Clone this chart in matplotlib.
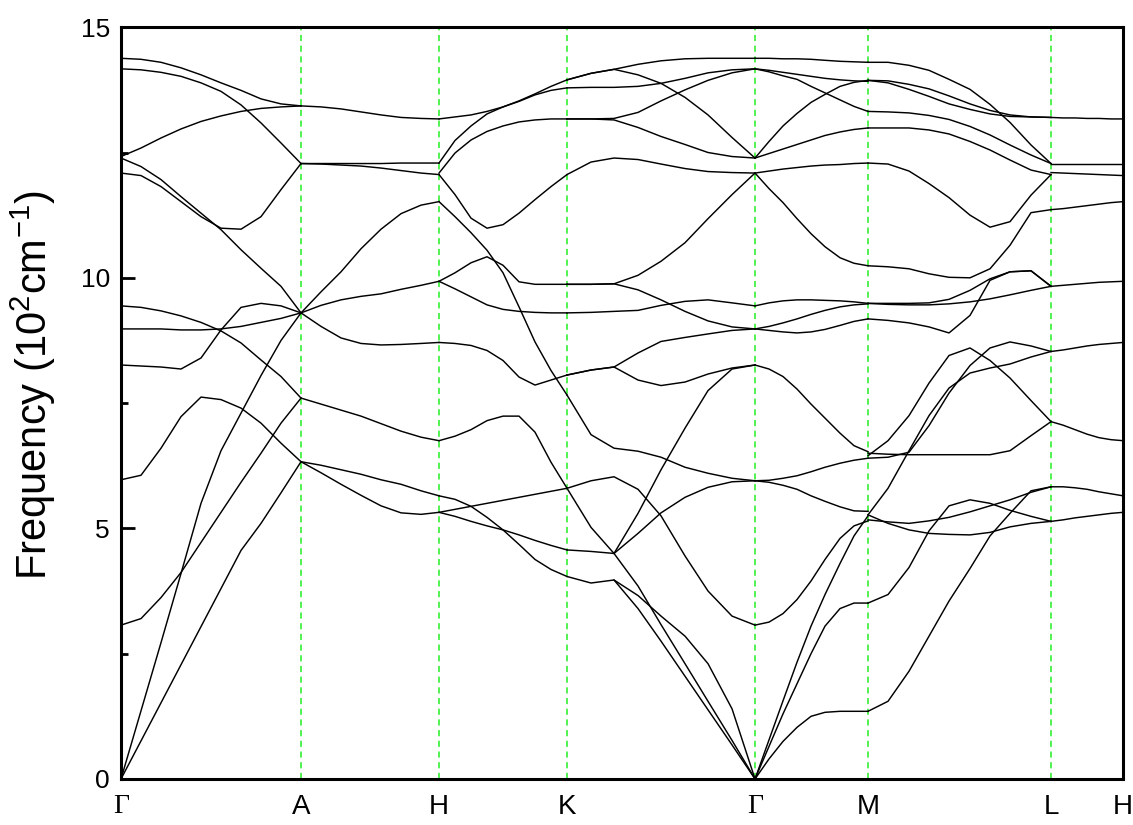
import numpy as np
import matplotlib
matplotlib.use("Agg")
from matplotlib import pyplot as plt

plt.rcParams['font.family'] = ['Liberation Sans', 'DejaVu Sans']
plt.rcParams['mathtext.default'] = 'regular'

nan = np.nan

# high symmetry points (path distance)
kpts = [0, 180, 318, 446, 634, 747, 930, 1002]
klabels = ['Γ', 'A', 'H', 'K', 'Γ', 'M', 'L', 'H']

# Gamma -> A
k_GA = [0, 20, 40, 60, 80, 100, 120, 140, 160, 180]
GA = [
    [14.38, 14.36, 14.30, 14.19, 14.05, 13.89, 13.74, 13.57, 13.47, 13.43],
    [14.17, 14.15, 14.10, 14.02, 13.89, 13.72, 13.45, 13.09, 12.69, 12.28],
    [12.42, 12.59, 12.79, 12.97, 13.12, 13.23, 13.32, 13.38, 13.41, 13.43],
    [12.39, 12.22, 11.96, 11.62, 11.29, 10.96, 10.56, 10.19, 9.83, 9.30],
    [12.09, 12.04, 11.82, 11.52, 11.22, 10.99, 10.97, 11.22, 11.76, 12.28],
    [9.44, 9.41, 9.34, 9.24, 9.11, 8.94, 8.70, 8.36, 8.03, 7.60],
    [8.98, 8.98, 8.98, 8.96, 8.96, 8.98, 9.03, 9.11, 9.19, 9.30],
    [8.26, 8.24, 8.22, 8.18, 8.40, 8.96, 9.41, 9.49, 9.44, 9.30],
    [5.97, 6.06, 6.60, 7.23, 7.62, 7.57, 7.40, 7.10, 6.70, 6.33],
    [3.07, 3.20, 3.62, 4.12, 4.72, 5.32, 5.92, 6.50, 7.10, 7.60],
    [0.00, 1.36, 2.72, 4.10, 5.50, 6.55, 7.30, 8.05, 8.75, 9.30],
    [0.00, 0.76, 1.52, 2.28, 3.04, 3.80, 4.56, 5.10, 5.71, 6.33],
]

# A -> H
k_AH = [180, 200, 220, 240, 260, 280, 300, 318]
AH = [
    [13.43, 13.41, 13.37, 13.31, 13.25, 13.20, 13.18, 13.17],
    [12.28, 12.28, 12.28, 12.28, 12.28, 12.29, 12.29, 12.29],
    [12.28, 12.27, 12.25, 12.23, 12.19, 12.14, 12.09, 12.06],
    [9.30, 9.72, 10.12, 10.58, 10.97, 11.28, 11.45, 11.52],
    [9.30, 9.45, 9.56, 9.63, 9.68, 9.77, 9.85, 9.93],
    [9.30, 9.03, 8.80, 8.69, 8.66, 8.67, 8.69, 8.71],
    [7.60, 7.48, 7.36, 7.24, 7.09, 6.94, 6.82, 6.75],
    [6.33, 6.26, 6.17, 6.08, 5.97, 5.88, 5.75, 5.65],
    [6.33, 6.11, 5.88, 5.66, 5.45, 5.31, 5.28, 5.32],
]

# H -> K
k_HK = [318, 334, 350, 366, 382, 398, 414, 430, 446]
HK = [
    [12.29, 12.74, 13.03, 13.27, 13.41, 13.53, 13.67, 13.82, 13.95],
    [13.17, 13.21, 13.25, 13.32, 13.41, 13.52, 13.65, 13.74, 13.79],
    [12.09, 12.49, 12.75, 12.92, 13.03, 13.11, 13.15, 13.17, 13.17],
    [12.06, 11.66, 11.19, 10.99, 11.06, 11.29, 11.56, 11.82, 12.06],
    [11.52, 11.22, 10.90, 10.55, 10.10, 9.42, 8.72, 8.15, 7.66],
    [9.93, 10.10, 10.30, 10.42, 10.25, 9.92, 9.87, 9.87, 9.87],
    [9.93, 9.78, 9.62, 9.46, 9.37, 9.33, 9.31, 9.30, 9.30],
    [8.71, 8.69, 8.65, 8.55, 8.35, 8.02, 7.86, 7.96, 8.06],
    [6.75, 6.84, 6.97, 7.15, 7.24, 7.24, 6.92, 6.32, 5.80],
    [5.32, 5.38, 5.44, 5.50, 5.56, 5.62, 5.68, 5.74, 5.80],
    [5.32, 5.24, 5.14, 5.05, 4.97, 4.87, 4.76, 4.66, 4.57],
    [5.65, 5.58, 5.44, 5.22, 4.97, 4.68, 4.38, 4.18, 4.04],
]

# K -> Gamma
k_KG = [446, 470, 493, 517, 540, 564, 587, 611, 634]
KG = [
    [13.95, 14.08, 14.16, 14.26, 14.33, 14.37, 14.38, 14.38, 14.38],
    [13.95, 14.08, 14.16, 14.05, 13.88, 13.60, 13.25, 12.80, 12.39],
    [13.79, 13.80, 13.80, 13.82, 13.88, 13.98, 14.09, 14.15, 14.17],
    [13.17, 13.17, 13.18, 13.30, 13.53, 13.75, 13.94, 14.09, 14.17],
    [13.17, 13.17, 13.15, 13.00, 12.82, 12.66, 12.50, 12.42, 12.39],
    [12.06, 12.31, 12.39, 12.36, 12.27, 12.18, 12.12, 12.10, 12.09],
    [9.87, 9.87, 9.88, 10.05, 10.33, 10.70, 11.18, 11.66, 12.09],
    [9.87, 9.87, 9.88, 9.76, 9.56, 9.33, 9.14, 9.02, 8.98],
    [9.30, 9.31, 9.33, 9.35, 9.45, 9.53, 9.56, 9.50, 9.44],
    [8.06, 8.16, 8.22, 8.50, 8.73, 8.81, 8.88, 8.95, 8.98],
    [8.06, 8.16, 8.22, 7.96, 7.85, 7.92, 8.08, 8.20, 8.26],
    [7.66, 6.87, 6.60, 6.54, 6.42, 6.22, 6.10, 6.00, 5.95],
    [5.80, 5.95, 6.03, 5.78, 5.25, 4.45, 3.75, 3.25, 3.07],
    [4.57, 4.54, 4.50, 4.90, 5.31, 5.62, 5.82, 5.93, 5.95],
    [5.80, 5.02, 4.50, 3.85, 3.08, 2.30, 1.55, 0.77, 0.00],
    [nan, nan, 4.50, 5.30, 6.17, 7.00, 7.75, 8.18, 8.26],
    [4.04, 3.91, 3.97, 3.40, 2.75, 2.05, 1.38, 0.68, 0.00],
    [nan, nan, 3.97, 3.66, 3.25, 2.85, 2.30, 1.40, 0.00],
]

# Gamma -> M
k_GM = [634, 648, 662, 676, 690, 704, 719, 733, 747]
GM = [
    [14.38, 14.38, 14.37, 14.37, 14.36, 14.34, 14.32, 14.31, 14.30],
    [14.17, 14.14, 14.10, 14.06, 14.02, 13.98, 13.95, 13.93, 13.92],
    [14.17, 14.11, 14.03, 13.96, 13.82, 13.69, 13.55, 13.42, 13.32],
    [12.39, 12.72, 13.03, 13.28, 13.50, 13.66, 13.82, 13.90, 13.94],
    [12.39, 12.48, 12.57, 12.66, 12.75, 12.84, 12.91, 12.96, 12.99],
    [12.09, 12.13, 12.17, 12.20, 12.23, 12.25, 12.26, 12.28, 12.29],
    [12.09, 11.78, 11.50, 11.18, 10.88, 10.62, 10.40, 10.29, 10.24],
    [9.44, 9.50, 9.54, 9.56, 9.56, 9.55, 9.54, 9.52, 9.49],
    [8.98, 8.95, 8.92, 8.90, 8.92, 8.97, 9.05, 9.13, 9.18],
    [8.98, 9.03, 9.10, 9.18, 9.27, 9.35, 9.42, 9.46, 9.48],
    [8.26, 8.18, 8.03, 7.78, 7.48, 7.20, 6.90, 6.65, 6.53],
    [5.95, 5.96, 6.00, 6.05, 6.13, 6.22, 6.30, 6.36, 6.40],
    [5.95, 5.92, 5.86, 5.78, 5.65, 5.54, 5.43, 5.35, 5.34],
    [3.07, 3.13, 3.30, 3.58, 3.95, 4.38, 4.80, 5.05, 5.15],
    [0.00, 0.78, 1.56, 2.33, 3.05, 3.68, 4.30, 4.85, 5.25],
    [0.00, 0.65, 1.30, 1.90, 2.50, 3.05, 3.40, 3.51, 3.51],
    [0.00, 0.40, 0.75, 1.03, 1.25, 1.33, 1.35, 1.35, 1.35],
]

# M -> L
k_ML = [747, 767, 788, 808, 828, 849, 869, 889, 910, 930]
ML = [
    [14.30, 14.30, 14.24, 14.14, 13.96, 13.76, 13.46, 13.10, 12.65, 12.28],
    [13.94, 13.93, 13.86, 13.77, 13.63, 13.47, 13.34, 13.25, 13.21, 13.20],
    [13.94, 13.89, 13.76, 13.62, 13.47, 13.36, 13.27, 13.22, 13.21, 13.20],
    [13.32, 13.31, 13.29, 13.24, 13.16, 13.02, 12.85, 12.65, 12.45, 12.28],
    [12.99, 12.99, 12.99, 12.95, 12.87, 12.72, 12.55, 12.35, 12.15, 12.06],
    [12.29, 12.27, 12.13, 11.88, 11.60, 11.25, 11.01, 11.12, 11.65, 12.06],
    [10.24, 10.22, 10.18, 10.08, 10.01, 10.00, 10.18, 10.65, 11.30, 11.36],
    [9.49, 9.47, 9.46, 9.46, 9.48, 9.52, 9.58, 9.66, 9.75, 9.83],
    [9.49, 9.49, 9.49, 9.50, 9.57, 9.75, 9.98, 10.12, 10.14, 9.83],
    [9.18, 9.15, 9.10, 9.02, 8.90, 9.25, 9.95, 10.12, 10.14, 9.83],
    [6.45, 6.75, 7.25, 7.90, 8.45, 8.60, 8.35, 8.00, 7.55, 7.13],
    [6.40, 6.42, 6.52, 7.05, 7.70, 8.25, 8.60, 8.72, 8.64, 8.53],
    [6.50, 6.48, 6.47, 6.47, 6.47, 6.47, 6.47, 6.55, 6.85, 7.13],
    [5.27, 5.80, 6.55, 7.25, 7.80, 8.10, 8.20, 8.28, 8.42, 8.53],
    [5.27, 5.10, 4.97, 4.90, 4.88, 4.87, 4.92, 5.03, 5.10, 5.14],
    [5.17, 5.13, 5.10, 5.15, 5.22, 5.33, 5.45, 5.57, 5.72, 5.83],
    [3.51, 3.68, 4.22, 4.95, 5.45, 5.57, 5.50, 5.36, 5.24, 5.14],
    [1.35, 1.55, 2.15, 2.85, 3.55, 4.20, 4.85, 5.30, 5.75, 5.83],
]

# L -> H
k_LH = [930, 942, 954, 966, 978, 990, 1002]
LH = [
    [13.20, 13.19, 13.19, 13.18, 13.18, 13.17, 13.17],
    [12.28, 12.28, 12.28, 12.28, 12.28, 12.28, 12.28],
    [12.10, 12.09, 12.08, 12.07, 12.06, 12.05, 12.04],
    [11.36, 11.38, 11.41, 11.44, 11.47, 11.50, 11.52],
    [9.83, 9.85, 9.87, 9.89, 9.91, 9.92, 9.93],
    [8.53, 8.56, 8.60, 8.64, 8.67, 8.69, 8.71],
    [7.13, 7.06, 6.97, 6.88, 6.81, 6.77, 6.75],
    [5.83, 5.83, 5.81, 5.78, 5.73, 5.69, 5.65],
    [5.14, 5.17, 5.21, 5.24, 5.27, 5.30, 5.32],
]

segments = [(k_GA, GA), (k_AH, AH), (k_HK, HK), (k_KG, KG),
            (k_GM, GM), (k_ML, ML), (k_LH, LH)]

fig = plt.figure(figsize=(11.33, 8.25), dpi=100)
ax = fig.add_axes([0.1068, 0.0558, 0.8844, 0.9112])

for kx, bands in segments:
    for b in bands:
        ax.plot(kx, b, color='black', lw=1.05, solid_joinstyle='round')

for x in kpts[1:-1]:
    ax.axvline(x, color='#22ee22', ls=(0, (4, 3)), lw=1.1, zorder=0)

ax.set_xlim(kpts[0], kpts[-1])
ax.set_ylim(0, 15)

ax.set_xticks(kpts)
ax.set_xticklabels(klabels, fontsize=20)
for lab in ax.get_xticklabels():
    if lab.get_text() == 'Γ':
        lab.set_family('Liberation Serif')
ax.tick_params(axis='x', length=0, pad=11)

ax.set_yticks([0, 5, 10, 15])
ax.set_yticks([2.5, 7.5, 12.5], minor=True)
ax.tick_params(axis='y', which='major', direction='in', length=10, width=2, labelsize=19, pad=8)
ax.tick_params(axis='y', which='minor', direction='in', length=5, width=2)

for s in ax.spines.values():
    s.set_linewidth(2.2)

ax.set_ylabel('Frequency (10$^2$cm$^{-1}$)', fontsize=30)
ax.yaxis.set_label_coords(-0.063, 0.524)

fig.savefig('out.png', dpi=100)
